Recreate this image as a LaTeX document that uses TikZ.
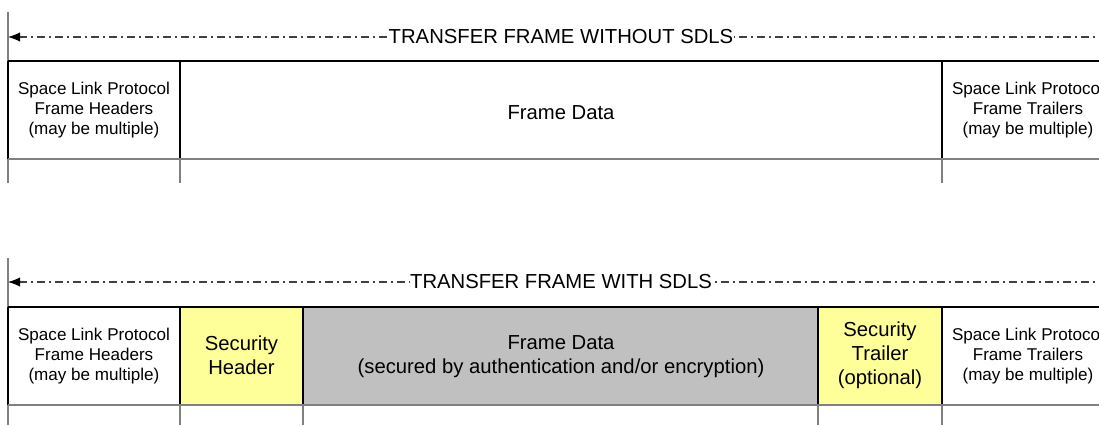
\documentclass[tikz,border=0pt]{standalone}
\usepackage{fontspec}
\setmainfont{Liberation Sans}
\usetikzlibrary{arrows.meta}

\definecolor{secyellow}{RGB}{255,255,153}
\definecolor{datagray}{RGB}{192,192,192}
\definecolor{guidegray}{RGB}{128,128,128}

\begin{document}
\begin{tikzpicture}[x=0.75pt,y=0.75pt,yscale=-1,xscale=1,
  cellline/.style={line width=1.5pt},
  guide/.style={draw=guidegray, line width=1.5pt},
  span/.style={black!75, line width=0.8pt, dash pattern=on 6pt off 3pt on 1.5pt off 3pt, {Latex[length=9pt,width=7pt,black]}-},
  spanlabel/.style={fill=white, inner xsep=0.3pt, inner ysep=1pt, font=\fontsize{15.2}{18}\selectfont},
  small/.style={align=center, font=\fontsize{12.8}{15}\selectfont},
  big/.style={align=center, font=\fontsize{15.2}{18}\selectfont}]
\useasboundingbox (0,0) rectangle (1099,425);
\clip (0,0) rectangle (1099,425);

%%% frame without SDLS
%Guide Lines
\draw[guide] (8,12) -- (8,183);
\draw[guide] (180,159) -- (180,183);
\draw[guide] (942,159) -- (942,183);
%Cell Borders
\draw[cellline] (8,61) -- (1099,61);
\draw[cellline] (8,61) -- (8,159);
\draw[cellline] (180,61) -- (180,159);
\draw[cellline] (942,61) -- (942,159);
\draw[guide] (8,159) -- (1099,159);
%Span Arrow
\coordinate (topL) at (8,37);
\coordinate (topR) at (1099,37);
\draw[span] (topL) -- (topR);
% Text Node
\node[spanlabel] (topspan) at (561,37) {TRANSFER FRAME WITHOUT SDLS};
% Text Node
\node[small] (hdrA) at (94,110) {Space Link Protocol\\Frame Headers\\(may be multiple)};
% Text Node
\node[big] (dataA) at (561,113) {Frame Data};
% Text Node
\node[small] (trlA) at (1028,110) {Space Link Protocol\\Frame Trailers\\(may be multiple)};

%%% frame with SDLS
%Cell Fills
\fill[secyellow] (180,307) rectangle (303,405);
\fill[datagray] (303,307) rectangle (818,405);
\fill[secyellow] (818,307) rectangle (942,405);
%Guide Lines
\draw[guide] (8,258) -- (8,425);
\draw[guide] (180,405) -- (180,425);
\draw[guide] (303,405) -- (303,425);
\draw[guide] (818,405) -- (818,425);
\draw[guide] (942,405) -- (942,425);
%Cell Borders
\draw[cellline] (8,307) -- (1099,307);
\draw[cellline] (8,307) -- (8,405);
\draw[cellline] (180,307) -- (180,405);
\draw[cellline] (303,307) -- (303,405);
\draw[cellline] (818,307) -- (818,405);
\draw[cellline] (942,307) -- (942,405);
\draw[guide] (8,405) -- (1099,405);
%Span Arrow
\coordinate (botL) at (8,282);
\coordinate (botR) at (1099,282);
\draw[span] (botL) -- (botR);
% Text Node
\node[spanlabel] (botspan) at (561,282) {TRANSFER FRAME WITH SDLS};
% Text Node
\node[small] (hdrB) at (94,356) {Space Link Protocol\\Frame Headers\\(may be multiple)};
% Text Node
\node[big] (sechdr) at (241.5,355) {Security\\Header};
% Text Node
\node[big] (dataB) at (561,357) {Frame Data\\(secured by authentication and/or encryption)};
% Text Node
\node[big] (sectrl) at (880,355) {Security\\Trailer\\(optional)};
% Text Node
\node[small] (trlB) at (1028,356) {Space Link Protocol\\Frame Trailers\\(may be multiple)};
\end{tikzpicture}
\end{document}
